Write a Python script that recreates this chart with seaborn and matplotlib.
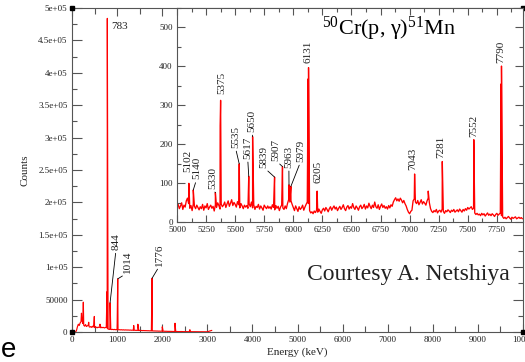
import numpy as np
import pandas as pd
import matplotlib
matplotlib.use("Agg")
import matplotlib.pyplot as plt
from matplotlib.ticker import FixedLocator, FixedFormatter, MultipleLocator
import seaborn as sns

# ---------------------------------------------------------------------------
# Full-range spectrum: continuum on a 20 keV grid (0-3000 keV) + resolved lines
# ---------------------------------------------------------------------------
full_energy = np.arange(0, 3001, 20)
full_counts = (
    [0, 0, 0, 0, 0, 2500, 8000, 12000, 10000, 14000, 16000, 19000, 13000, 10500, 9000, 11500, 8500, 9500, 10500, 8000]
    + [7500, 8500, 7000, 9000, 7800, 6800, 8200, 7200, 6500, 7600, 6900, 7800, 6400, 7300, 6700, 7100, 6200, 6900, 7400, 6000]
    + [4500, 4200, 3900, 4400, 3700, 4100, 3600, 4000, 3500, 3800, 3400, 3700, 3300, 3600, 3200, 3500, 3100, 3400, 3000, 3300]
    + [3000, 3200, 2900, 3100, 2800, 3000, 2700, 2900, 2600, 2800, 2500, 2700, 2400, 2600, 2300, 2500, 2200, 2400, 2100, 2300]
    + [2100, 2200, 2000, 2100, 1900, 2000, 1800, 1900, 1700, 1800, 1600, 1700, 1500, 1600, 1400, 1500, 1300, 1400, 1200, 1300]
    + [1200, 1300, 1100, 1200, 1000, 1100, 950, 1000, 900, 950, 850, 900, 800, 850, 750, 800, 700, 750, 650, 700]
    + [650, 700, 600, 650, 550, 600, 500, 550, 480, 520, 460, 500, 440, 480, 420, 460, 400, 440, 380, 420]
    + [380, 400, 360, 380, 340, 360, 320, 340, 300, 320, 300]
)
full_peak_energy = [210, 251, 370, 495, 620, 776, 783, 844, 1014, 1368, 1460, 1776, 2002, 2284, 2614, 3100]
full_peak_counts = [29000, 46000, 15000, 24000, 12000, 62000, 484000, 45000, 82000, 10000, 12000, 83000, 8000,
                    13500, 3500, 2500]
full_labelled = [783, 844, 1014, 1776]

# ---------------------------------------------------------------------------
# High-energy window: continuum on a 10 keV grid (5000-7970 keV) + resolved lines
# ---------------------------------------------------------------------------
zoom_energy = np.arange(5000, 7971, 10)
zoom_counts = (
    [38, 46, 35, 42, 50, 33, 44, 39, 55, 62, 48, 36, 43, 30, 47, 41, 35, 44, 38, 32]
    + [40, 35, 46, 31, 42, 37, 48, 33, 39, 44, 36, 41, 29, 45, 38, 50, 43, 34, 47, 40]
    + [44, 52, 38, 47, 55, 41, 49, 58, 43, 51, 46, 39, 53, 45, 37, 48, 42, 35, 44, 39]
    + [43, 36, 48, 40, 52, 37, 45, 33, 41, 38, 46, 34, 42, 37, 31, 44, 39, 35, 42, 36]
    + [40, 34, 45, 38, 32, 43, 36, 41, 30, 39, 44, 37, 33, 42, 35, 48, 58, 52, 55, 46]
    + [38, 30, 42, 35, 28, 40, 33, 37, 44, 31, 39, 46, 52, 48, 30, 24, 27, 22, 29, 25]
    + [31, 26, 34, 28, 23, 32, 36, 29, 38, 33, 27, 35, 40, 31, 37, 42, 34, 39, 30, 36]
    + [41, 33, 38, 45, 35, 30, 39, 43, 34, 40, 36, 48, 38, 33, 42, 37, 31, 40, 44, 35]
    + [39, 46, 34, 42, 37, 49, 41, 35, 44, 38, 52, 40, 36, 45, 33, 41, 47, 38, 43, 36]
    + [40, 34, 43, 37, 45, 41, 52, 58, 63, 55, 60, 54, 62, 57, 50, 56, 48, 42, 33, 26]
    + [22, 28, 31, 55, 60, 52, 48, 56, 45, 51, 58, 47, 53, 49, 44, 55, 62, 50, 35, 28]
    + [25, 30, 27, 33, 24, 29, 31, 26, 34, 28, 23, 30, 27, 32, 29, 25, 31, 28, 33, 26]
    + [29, 32, 27, 34, 30, 26, 33, 29, 35, 31, 38, 34, 37, 40, 33, 36, 24, 20, 23, 19]
    + [21, 17, 23, 19, 22, 16, 20, 24, 18, 21, 17, 22, 19, 15, 20, 23, 18, 21, 24, 17]
    + [14, 10, 13, 9, 12, 15, 11, 8, 13, 10, 12, 14, 9, 11, 13, 10, 12, 9]
)
zoom_peak_energy = [5102, 5140, 5330, 5371, 5375, 5535, 5617, 5650, 5839, 5907, 5963, 5979, 6127, 6131, 6205,
                    7043, 7160, 7281, 7552, 7786, 7790]
zoom_peak_counts = [100, 83, 76, 248, 313, 150, 118, 220, 116, 143, 96, 92, 368, 397, 80,
                    124, 80, 156, 212, 355, 401]
zoom_labelled = [5102, 5140, 5330, 5375, 5535, 5617, 5650, 5839, 5907, 5963, 5979, 6131, 6205,
                 7043, 7281, 7552, 7790]

# Tick labels
full_xtick_labels = ["0", "1000", "2000", "3000", "4000", "5000", "6000", "7000", "8000", "9000", "10000"]
full_ytick_labels = ["0", "50000", "1e+05", "1.5e+05", "2e+05", "2.5e+05", "3e+05", "3.5e+05", "4e+05",
                     "4.5e+05", "5e+05"]
zoom_xtick_labels = ["5000", "5250", "5500", "5750", "6000", "6250", "6500", "6750", "7000", "7250", "7500", "7750"]
zoom_ytick_labels = ["0", "100", "200", "300", "400", "500"]

reaction_title = r"$^{50}$Cr(p, γ)$^{51}$Mn"
credit_text = "Courtesy A. Netshiya"

# ---------------------------------------------------------------------------
# Label placement (anchor energy, anchor counts, leader line to the peak top)
# ---------------------------------------------------------------------------
full_label_place = {
    844: (975, 126500, True),
    1014: (1235, 91500, True),
    1776: (1940, 102000, True),
}
zoom_label_place = {
    5102: (5093, 130, False),
    5140: (5168, 110, True),
    5330: (5305, 86, True),
    5375: (5387, 330, False),
    5535: (5503, 191, True),
    5617: (5608, 163, True),
    5650: (5643, 232, True),
    5839: (5750, 140, True),
    5907: (5852, 158, True),
    5963: (5962, 140, True),
    5979: (6062, 155, True),
    6131: (6124, 408, False),
    6205: (6215, 100, False),
    7043: (7030, 133, False),
    7281: (7272, 165, False),
    7552: (7548, 220, False),
    7790: (7782, 410, False),
}

RED = "#ff0000"
AXIS_COLOR = "#555555"
TEXT_COLOR = "#222222"

sns.set_theme(style="ticks")
plt.rcParams["font.family"] = ["Liberation Serif", "DejaVu Serif"]
plt.rcParams["mathtext.fontset"] = "custom"
plt.rcParams["mathtext.rm"] = "Liberation Serif"
plt.rcParams["mathtext.it"] = "Liberation Serif:italic"


def spectrum_table(energy, counts, peak_e, peak_c):
    table = pd.DataFrame({
        "energy": np.concatenate([np.asarray(energy, float), np.asarray(peak_e, float)]),
        "counts": np.concatenate([np.asarray(counts, float), np.asarray(peak_c, float)]),
    })
    return table.sort_values(["energy", "counts"]).reset_index(drop=True)


def style_axes(a, xlabels, ylabels, xminor, yminor, xlen, ylen, pad):
    xt = [float(s) for s in xlabels]
    yt = [float(s) for s in ylabels]
    a.xaxis.set_major_locator(FixedLocator(xt))
    a.xaxis.set_major_formatter(FixedFormatter(xlabels))
    a.yaxis.set_major_locator(FixedLocator(yt))
    a.yaxis.set_major_formatter(FixedFormatter(ylabels))
    a.xaxis.set_minor_locator(MultipleLocator(xminor))
    a.yaxis.set_minor_locator(MultipleLocator(yminor))
    a.tick_params(which="both", direction="in", top=True, right=True, color=AXIS_COLOR,
                  width=0.8, labelsize=6.5, labelcolor=TEXT_COLOR, pad=pad)
    a.tick_params(axis="x", which="major", length=xlen[0])
    a.tick_params(axis="x", which="minor", length=xlen[1])
    a.tick_params(axis="y", which="major", length=ylen[0])
    a.tick_params(axis="y", which="minor", length=ylen[1])
    for sp in a.spines.values():
        sp.set_color(AXIS_COLOR)
        sp.set_linewidth(0.8)
    a.grid(False)
    a.set_facecolor("white")


fig = plt.figure(figsize=(5.25, 3.62), dpi=100)
ax = fig.add_axes([72 / 525, 1 - 332 / 362, 451 / 525, 324 / 362])
ins = fig.add_axes([177 / 525, 1 - 222.3 / 362, 346 / 525, 214.3 / 362])

# --- full range ---
full_table = spectrum_table(full_energy, full_counts, full_peak_energy, full_peak_counts)
sns.lineplot(data=full_table, x="energy", y="counts", ax=ax, color=RED, lw=0.85,
             estimator=None, sort=False, legend=False)
ax.set_xlim(0, 10000)
ax.set_ylim(0, 5e5)
style_axes(ax, full_xtick_labels, full_ytick_labels, 500, 25000, (6, 4.5), (7, 3.5), 3.2)
ax.set_xlabel("Energy (keV)", fontsize=8, color=TEXT_COLOR, labelpad=2)
ax.set_ylabel("Counts", fontsize=8, color=TEXT_COLOR)
ax.yaxis.set_label_coords(-0.094, 0.5)

full_peaks = dict(zip(full_peak_energy, full_peak_counts))
for e in full_labelled:
    h = full_peaks[e]
    if e in full_label_place:
        tx, ty, leader = full_label_place[e]
        ax.annotate(str(e), xy=(e, h), xytext=(tx, ty), rotation=90, ha="center", va="bottom",
                    fontsize=8, color=TEXT_COLOR,
                    arrowprops=dict(arrowstyle="-", color="black", lw=0.6, shrinkA=0, shrinkB=0,
                                    relpos=(0.5, 0.0)) if leader else None)
    else:
        ax.annotate(str(e), xy=(e, h), xytext=(3, -6), textcoords="offset points",
                    ha="left", va="center", fontsize=8, color=TEXT_COLOR)

for xx in ax.get_xlim():
    for yy in ax.get_ylim():
        ax.plot([xx], [yy], "s", ms=3.5, color="black", clip_on=False, zorder=6)

# --- high-energy window ---
zoom_table = spectrum_table(zoom_energy, zoom_counts, zoom_peak_energy, zoom_peak_counts)
sns.lineplot(data=zoom_table, x="energy", y="counts", ax=ins, color=RED, lw=0.95,
             estimator=None, sort=False, legend=False)
ins.set_xlim(5000, 7975)
ins.set_ylim(0, 550)
style_axes(ins, zoom_xtick_labels, zoom_ytick_labels, 125, 50, (5, 3), (5.8, 3), 3.0)
ins.set_xlabel("")
ins.set_ylabel("")

zoom_peaks = dict(zip(zoom_peak_energy, zoom_peak_counts))
for e in zoom_labelled:
    h = zoom_peaks[e]
    tx, ty, leader = zoom_label_place[e]
    ins.annotate(str(e), xy=(e, h), xytext=(tx, ty), rotation=90, ha="center", va="bottom",
                 fontsize=8, color=TEXT_COLOR,
                 arrowprops=dict(arrowstyle="-", color="black", lw=0.6, shrinkA=0, shrinkB=0,
                                 relpos=(0.5, 0.0)) if leader else None)

fig.text(322 / 525, 1 - 35 / 362, reaction_title, fontsize=16, ha="left", va="baseline", color="black")
fig.text(307 / 525, 1 - 280 / 362, credit_text, fontsize=17, ha="left", va="baseline", color=TEXT_COLOR)
fig.text(0.002, 1 - 357 / 362, "e", fontsize=20, family="Liberation Sans", ha="left", va="baseline",
         color="black")

fig.savefig("out.png", dpi=100)
